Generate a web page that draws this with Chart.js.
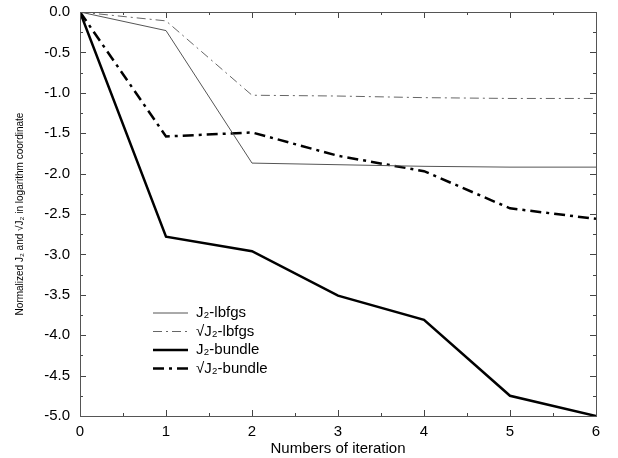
<!DOCTYPE html>
<html>
<head>
<meta charset="utf-8">
<script src="https://cdn.jsdelivr.net/npm/chart.js@4.4.1/dist/chart.umd.min.js"></script>
<style>
  html, body { margin: 0; padding: 0; background: #fff; }
  #wrap { width: 618px; height: 458px; }
</style>
</head>
<body>
<div id="wrap"><canvas id="chart" width="618" height="458"></canvas></div>
<script>
// iterations on the x axis
const iterations = [0, 1, 2, 3, 4, 5, 6];

// normalized values (log coordinate)
const j2Lbfgs = [0, -0.23, -1.87, -1.89, -1.91, -1.92, -1.92];
const sqrtJ2Lbfgs = [0, -0.11, -1.03, -1.04, -1.06, -1.07, -1.07];
const j2Bundle = [0, -2.78, -2.96, -3.51, -3.81, -4.75, -5.0];
const sqrtJ2Bundle = [0, -1.54, -1.49, -1.78, -1.97, -2.43, -2.56];

const seriesLabels = ['J\u2082-lbfgs', '\u221AJ\u2082-lbfgs', 'J\u2082-bundle', '\u221AJ\u2082-bundle'];

const FONT = '"Liberation Sans", Arial, Helvetica, sans-serif';

function toPoints(values) {
    return values.map((v, i) => ({x: iterations[i], y: v}));
}

// draws tick marks pointing into the plot on all four sides, like the original
const insideTicks = {
    id: 'insideTicks',
    afterDatasetsDraw(chart) {
        const ctx = chart.ctx;
        const a = chart.chartArea;
        const xs = chart.scales.x;
        const ys = chart.scales.y;
        ctx.save();
        ctx.strokeStyle = '#444';
        ctx.lineWidth = 1;
        ctx.beginPath();
        for (let v = 0; v <= 6.001; v += 0.5) {
            const px = Math.round(xs.getPixelForValue(v)) + 0.5;
            const len = (Math.abs(v - Math.round(v)) < 0.01) ? 6 : 3;
            ctx.moveTo(px, a.bottom); ctx.lineTo(px, a.bottom - len);
            ctx.moveTo(px, a.top); ctx.lineTo(px, a.top + len);
        }
        for (let v = 0; v >= -5.001; v -= 0.25) {
            const py = Math.round(ys.getPixelForValue(v)) + 0.5;
            const len = (Math.abs(v * 2 - Math.round(v * 2)) < 0.01) ? 6 : 3;
            ctx.moveTo(a.left, py); ctx.lineTo(a.left + len, py);
            ctx.moveTo(a.right, py); ctx.lineTo(a.right - len, py);
        }
        ctx.stroke();
        ctx.strokeStyle = '#555';
        ctx.strokeRect(Math.round(a.left) + 0.5, Math.round(a.top) + 0.5,
            Math.round(a.right - a.left), Math.round(a.bottom - a.top));
        ctx.restore();
    }
};

// legend inside the plot, lower left
const innerLegend = {
    id: 'innerLegend',
    afterDraw(chart) {
        const ctx = chart.ctx;
        const a = chart.chartArea;
        const x0 = a.left + 73;
        let y = a.top + 301;
        ctx.save();
        ctx.font = '15px ' + FONT;
        ctx.textBaseline = 'middle';
        chart.data.datasets.forEach(ds => {
            ctx.strokeStyle = ds.borderColor;
            ctx.lineWidth = ds.borderWidth;
            ctx.setLineDash(ds.borderDash || []);
            ctx.beginPath();
            ctx.moveTo(x0, y);
            ctx.lineTo(x0 + 35, y);
            ctx.stroke();
            ctx.setLineDash([]);
            ctx.fillStyle = '#000';
            ctx.fillText(ds.label, x0 + 43, y);
            y += 18.5;
        });
        ctx.restore();
    }
};

new Chart(document.getElementById('chart'), {
    type: 'line',
    data: {
        datasets: [
            {label: seriesLabels[0], data: toPoints(j2Lbfgs), borderColor: '#555', borderWidth: 1, borderDash: []},
            {label: seriesLabels[1], data: toPoints(sqrtJ2Lbfgs), borderColor: '#666', borderWidth: 1, borderDash: [9, 4, 2, 4]},
            {label: seriesLabels[2], data: toPoints(j2Bundle), borderColor: '#000', borderWidth: 2.5, borderDash: []},
            {label: seriesLabels[3], data: toPoints(sqrtJ2Bundle), borderColor: '#000', borderWidth: 2.5, borderDash: [11, 5, 3, 5]}
        ]
    },
    options: {
        responsive: false,
        animation: false,
        layout: {padding: {top: 12, right: 22, left: 0, bottom: 0}},
        elements: {point: {radius: 0}, line: {tension: 0}},
        plugins: {legend: {display: false}, tooltip: {enabled: false}},
        scales: {
            x: {
                type: 'linear',
                min: 0, max: 6,
                grid: {display: false, drawTicks: false},
                border: {display: false},
                ticks: {stepSize: 1, color: '#000', padding: 7, font: {family: FONT, size: 15}},
                title: {display: true, text: 'Numbers of iteration', color: '#000', padding: {top: 0, bottom: 0},
                    font: {family: FONT, size: 15}},
                afterFit: s => { s.height = 42; s.paddingLeft = 0; s.paddingRight = 0; }
            },
            y: {
                min: -5, max: 0,
                grid: {display: false, drawTicks: false},
                border: {display: false},
                ticks: {stepSize: 0.5, color: '#000', padding: 10, font: {family: FONT, size: 15},
                    callback: v => v.toFixed(1)},
                title: {display: true, text: 'Normalized J\u2082 and \u221AJ\u2082 in logarithm coordinate', color: '#000',
                    padding: {top: 14, bottom: 8}, font: {family: FONT, size: 10}},
                afterFit: s => { s.width = 80; s.paddingTop = 0; s.paddingBottom = 0; }
            }
        }
    },
    plugins: [insideTicks, innerLegend]
});
</script>
</body>
</html>
